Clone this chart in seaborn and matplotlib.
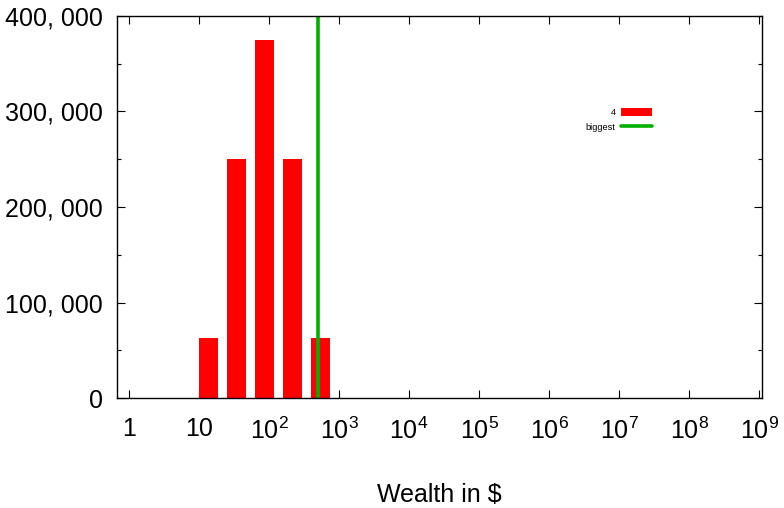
import numpy as np
import pandas as pd
import matplotlib
matplotlib.use("Agg")
import matplotlib.pyplot as plt
import seaborn as sns
from matplotlib.ticker import FixedLocator, MultipleLocator
from matplotlib.patches import Patch
from matplotlib.lines import Line2D

# Data
wealth = [13.5, 34, 85, 214, 537]            # bar centre wealth ($)
counts = [62500, 250000, 375000, 250000, 62500]
bin_edges_log = [0.91, 1.31, 1.71, 2.11, 2.51, 2.91]   # log10 bin edges
biggest = 500
series_label = "4"
x_tick_values = [1, 10, 1e2, 1e3, 1e4, 1e5, 1e6, 1e7, 1e8, 1e9]
x_tick_labels = ["1", "10"] + [r"$10^{%d}$" % k for k in range(2, 10)]
y_tick_values = [0, 100000, 200000, 300000, 400000]
y_tick_labels = ["0", "100, 000", "200, 000", "300, 000", "400, 000"]

df = pd.DataFrame({"wealth": wealth, "count": counts})

sns.set_style("ticks")
plt.rcParams["font.family"] = ["Liberation Sans", "DejaVu Sans"]
plt.rcParams["mathtext.fontset"] = "custom"
plt.rcParams["mathtext.rm"] = "Liberation Sans"
plt.rcParams["mathtext.it"] = "Liberation Sans:italic"
plt.rcParams["mathtext.bf"] = "Liberation Sans:bold"
plt.rcParams["text.color"] = "black"
plt.rcParams["axes.labelcolor"] = "black"
plt.rcParams["xtick.color"] = "black"
plt.rcParams["ytick.color"] = "black"

red = "#ff0000"
green = "#00b000"

fig = plt.figure(figsize=(7.84, 5.08), dpi=100)
ax = fig.add_axes([117/784, 1 - 398/508, (762 - 117)/784, (398 - 16)/508])

sns.histplot(data=df, x="wealth", weights="count", bins=bin_edges_log,
             log_scale=True, shrink=0.7, color=red, alpha=1,
             edgecolor="none", linewidth=0, ax=ax)
ax.axvline(biggest, color=green, lw=2.6)

ax.set_xlim(10 ** -0.171, 10 ** 9.04)
ax.set_ylim(0, 400000)
ax.xaxis.set_major_locator(FixedLocator(x_tick_values))
ax.xaxis.set_minor_locator(FixedLocator([]))
ax.set_xticklabels(x_tick_labels)
ax.set_yticks(y_tick_values)
ax.set_yticklabels(y_tick_labels)
ax.yaxis.set_minor_locator(MultipleLocator(50000))

ax.tick_params(axis="both", which="both", direction="in", top=True, right=True,
               labelsize=18, color="black", labelcolor="black")
ax.tick_params(axis="both", which="major", length=6, width=0.8)
ax.tick_params(axis="y", which="minor", length=3, width=0.8)
ax.tick_params(axis="x", which="major", pad=14)
ax.tick_params(axis="y", which="major", pad=10)
for s in ax.spines.values():
    s.set_visible(True)
    s.set_linewidth(1.0)
    s.set_color("black")

ax.set_xlabel("Wealth in $", fontsize=18, labelpad=28, color="black")
ax.set_ylabel("")

handles = [Patch(facecolor=red, edgecolor="none", label=series_label),
           Line2D([], [], color=green, lw=2.6, label="biggest")]
leg = ax.legend(handles=handles, loc="upper right",
                bbox_to_anchor=((652 - 117)/645, 1 - (108 - 16)/382),
                markerfirst=False, frameon=False, fontsize=6.6,
                handlelength=3.4, handleheight=1.0, handletextpad=0.6,
                labelspacing=0.55, borderaxespad=0, borderpad=0)

fig.savefig("out.png", dpi=100)
